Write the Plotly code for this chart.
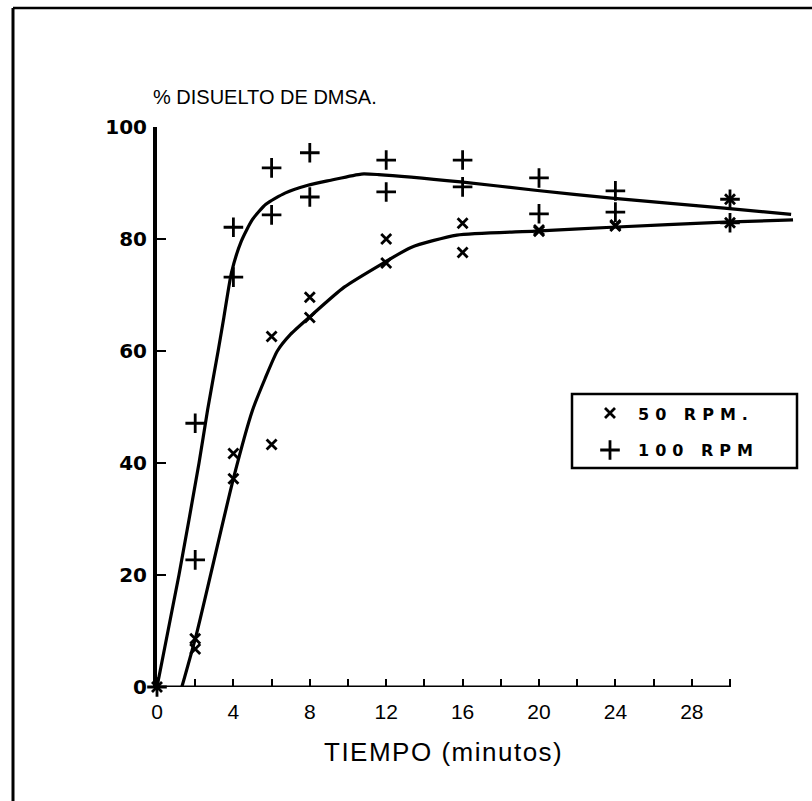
import plotly.graph_objects as go

# Sampling times (minutes) and measured % dissolved for each stirring speed
t_50 = [0, 2, 2, 4, 4, 6, 6, 8, 8, 12, 12, 16, 16, 20, 20, 24, 24, 30, 30]
y_50 = [0, 8.6, 6.8, 41.7, 37.2, 62.6, 43.3, 69.6, 66.0, 80.0, 75.7,
        82.8, 77.6, 81.6, 81.4, 82.5, 82.3, 87.1, 82.9]

t_100 = [0, 2, 2, 4, 4, 6, 6, 8, 8, 12, 12, 16, 16, 20, 20, 24, 24, 30, 30]
y_100 = [0, 47.1, 22.7, 82.1, 73.2, 92.7, 84.3, 95.4, 87.5, 94.1, 88.4,
         94.1, 89.3, 90.9, 84.5, 88.6, 84.8, 87.1, 82.9]

# Fitted dissolution curves
fit50_t = [1.3, 2.07, 4.0, 5.0, 5.65, 6.3, 7.0, 8.0, 9.8, 11.9, 13.3, 15.7,
           19.8, 23.8, 29.7, 33.3]
fit50_y = [0, 9.5, 37.2, 49.4, 55.0, 60.0, 63.0, 66.1, 71.4, 75.8, 78.5, 80.7,
           81.4, 82.1, 83.0, 83.4]

fit100_t = [0, 1.15, 2.2, 2.65, 3.2, 3.5, 3.9, 4.4, 5.0, 5.7, 6.7, 7.9, 9.1, 10.7,
            11.6, 15.9, 19.8, 23.8, 29.7, 33.2]
fit100_y = [0, 20, 40, 49.5, 60, 66, 74, 79.5, 83.5, 86.2, 88.2, 89.6, 90.5, 91.6,
            91.5, 90.2, 88.7, 87.3, 85.5, 84.4]

x_ticks = list(range(0, 31, 2))
x_labels = [str(v) if v % 4 == 0 and v <= 28 else "" for v in x_ticks]
y_ticks = [0, 20, 40, 60, 80, 100]
y_labels = ["0", "20", "40", "60", "80", "100"]

series_names = ["50 RPM.", "100 RPM"]

INK = "black"
W, H = 812, 801
ML, MR, MT, MB = 157, 0, 127, 114
PW, PH = W - ML - MR, H - MT - MB
X_PER_UNIT = 19.1


def px_x(p):
    return (p - ML) / PW


def px_y(p):
    return (H - MB - p) / PH


fig = go.Figure()

curve_line = dict(color=INK, width=3.2, shape="spline", smoothing=0.6)
fig.add_trace(go.Scatter(x=fit100_t, y=fit100_y, mode="lines", line=curve_line,
                         showlegend=False, hoverinfo="skip"))
fig.add_trace(go.Scatter(x=fit50_t, y=fit50_y, mode="lines", line=curve_line,
                         showlegend=False, hoverinfo="skip"))

x_marker = dict(symbol="x-thin", size=10, line=dict(color=INK, width=2.8))
plus_marker = dict(symbol="cross-thin", size=14, line=dict(color=INK, width=2.8))

fig.add_trace(go.Scatter(x=t_50, y=y_50, mode="markers", name=series_names[0],
                         marker=x_marker, cliponaxis=False, showlegend=False))
fig.add_trace(go.Scatter(x=t_100, y=y_100, mode="markers", name=series_names[1],
                         marker=plus_marker, cliponaxis=False, showlegend=False))

# Legend key symbols, drawn on an overlay axis pair that spans the plot area
key_x = px_x(610)
fig.add_trace(go.Scatter(x=[key_x], y=[px_y(413)], mode="markers", xaxis="x2", yaxis="y2",
                         marker=x_marker, showlegend=False, hoverinfo="skip"))
fig.add_trace(go.Scatter(x=[key_x], y=[px_y(450)], mode="markers", xaxis="x2", yaxis="y2",
                         marker=plus_marker, showlegend=False, hoverinfo="skip"))

fig.update_layout(
    width=W, height=H,
    margin=dict(l=ML, r=MR, t=MT, b=MB, pad=0),
    paper_bgcolor="white", plot_bgcolor="white",
    showlegend=False,
    xaxis=dict(range=[0, PW / X_PER_UNIT], showgrid=False, zeroline=False, showline=False,
               tickmode="array", tickvals=x_ticks, ticktext=x_labels,
               ticks="inside", ticklen=8, tickwidth=2, tickcolor=INK,
               tickfont=dict(family="Liberation Sans, Arial, sans-serif", size=21, color=INK),
               ticklabelstandoff=10),
    yaxis=dict(range=[0, 100], showgrid=False, zeroline=False, showline=True,
               linecolor=INK, linewidth=4,
               tickmode="array", tickvals=y_ticks, ticktext=y_labels,
               ticks="inside", ticklen=9, tickwidth=2, tickcolor=INK,
               tickfont=dict(family="DejaVu Sans, sans-serif", size=20, color=INK, weight="bold"),
               ticklabelstandoff=2),
    xaxis2=dict(range=[0, 1], overlaying="x", anchor="y2", visible=False),
    yaxis2=dict(range=[0, 1], overlaying="y", anchor="x2", visible=False),
)

# Horizontal axis line runs only over 0–30 min
fig.add_shape(type="line", xref="x", yref="y", x0=0, x1=30, y0=0, y1=0,
              line=dict(color=INK, width=3))

# Outer frame (left and top edges)
fig.add_shape(type="line", xref="paper", yref="paper",
              x0=px_x(13), x1=px_x(13), y0=px_y(8), y1=px_y(801),
              line=dict(color=INK, width=3))
fig.add_shape(type="line", xref="paper", yref="paper",
              x0=px_x(13), x1=px_x(812), y0=px_y(8), y1=px_y(8),
              line=dict(color=INK, width=2.5))

# Legend box
fig.add_shape(type="rect", xref="paper", yref="paper",
              x0=px_x(572), x1=px_x(797), y0=px_y(468), y1=px_y(394),
              line=dict(color=INK, width=2.5), fillcolor="rgba(0,0,0,0)")

legend_font = dict(family="DejaVu Sans, sans-serif", size=16, color=INK, weight="bold")
for name, py in zip(series_names, [414, 451]):
    fig.add_annotation(xref="paper", yref="paper", x=px_x(636), y=px_y(py),
                       xanchor="left", yanchor="middle", showarrow=False,
                       text=f"<span style='letter-spacing:6px'>{name}</span>",
                       font=legend_font)

fig.add_annotation(xref="paper", yref="paper", x=px_x(151), y=px_y(97),
                   xanchor="left", yanchor="middle", showarrow=False,
                   text="% DISUELTO DE DMSA.",
                   font=dict(family="Liberation Sans, Arial, sans-serif", size=20, color=INK))

fig.add_annotation(xref="x", yref="paper", x=15, y=px_y(752),
                   xanchor="center", yanchor="middle", showarrow=False,
                   text="<span style='letter-spacing:1.5px'>TIEMPO (minutos)</span>",
                   font=dict(family="Liberation Sans, Arial, sans-serif", size=26, color=INK))

fig.write_html("out.html")
